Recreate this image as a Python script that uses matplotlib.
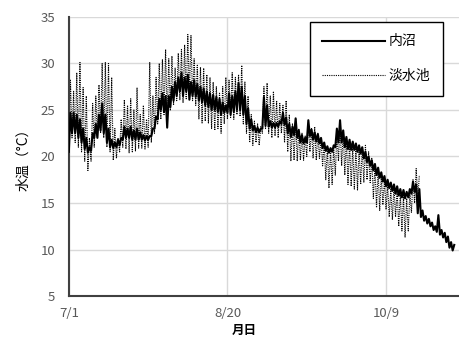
import numpy as np
import matplotlib.pyplot as plt

plt.rcParams['font.family'] = ['Noto Sans CJK JP', 'DejaVu Sans']

# daily low / high water temperature, day 0 = 7/1
uchinuma_lo = [20.5, 22.5, 22.5, 22.0, 21.5, 20.8, 20.4, 20.6, 22.0, 22.0,
               22.8, 22.5, 21.5, 21.0, 20.9, 21.0, 21.2, 21.8, 22.0, 22.0,
               21.8, 21.8, 21.8, 21.8, 21.7, 21.8, 22.2, 23.0, 24.0, 25.0,
               24.8, 23.1, 25.3, 26.0, 26.5, 27.0, 26.5, 27.0, 26.1, 26.5,
               26.4, 26.0, 25.8, 25.5, 25.3, 25.0, 25.0, 24.8, 24.5, 24.7,
               24.7, 24.5, 24.8, 25.0, 25.0, 24.5, 23.5, 23.0, 22.8, 22.6,
               22.6, 23.0, 23.3, 23.2, 23.1, 23.1, 23.2, 23.5, 23.4, 22.5,
               22.1, 22.3, 22.0, 21.5, 21.4, 21.5, 22.2, 21.8, 21.6, 21.4,
               20.9, 20.6, 20.4, 20.5, 21.0, 21.5, 21.5, 21.0, 20.8, 20.7,
               20.7, 20.5, 20.3, 19.8, 19.4, 19.0, 18.5, 18.0, 17.7, 17.3,
               16.8, 16.6, 16.3, 16.0, 15.8, 15.6, 15.5, 15.6, 16.0, 16.2,
               13.9, 13.5, 13.1, 12.8, 12.5, 12.1, 11.9, 11.6, 11.3, 10.8,
               10.2, 9.9]
uchinuma_hi = [24.7, 24.7, 24.5, 24.0, 23.0, 22.0, 21.0, 22.5, 23.5, 24.5,
               25.7, 24.5, 23.0, 21.8, 21.5, 21.8, 22.0, 23.2, 23.0, 23.2,
               22.8, 23.0, 22.6, 22.3, 22.2, 22.2, 23.0, 24.3, 26.2, 26.8,
               26.5, 26.5, 27.5, 28.0, 28.5, 29.0, 28.5, 28.8, 28.0, 28.2,
               27.8, 27.5, 27.3, 27.0, 26.8, 26.6, 26.4, 26.2, 25.8, 25.5,
               26.8, 26.5, 27.0, 27.9, 27.5, 26.5, 25.2, 24.0, 23.3, 23.1,
               23.0, 26.4, 25.5, 23.8, 23.6, 23.6, 23.8, 24.7, 24.2, 23.5,
               23.2, 24.1, 22.8, 22.3, 22.0, 23.9, 22.9, 22.6, 22.4, 22.0,
               21.5, 21.1, 20.9, 21.2, 23.0, 23.9, 22.8, 22.1, 21.8, 21.6,
               21.4, 21.2, 21.0, 20.5, 20.0, 19.6, 19.2, 18.8, 18.3, 17.9,
               17.5, 17.2, 17.0, 16.8, 16.5, 16.4, 16.2, 16.5, 17.3, 17.0,
               16.5, 14.2, 13.6, 13.3, 12.9, 12.5, 13.7, 12.1, 11.8, 11.4,
               10.8, 10.5]

tansui_lo = [21.0, 22.0, 21.5, 21.0, 20.5, 19.5, 18.5, 19.5, 21.0, 22.0,
             22.5, 22.0, 21.0, 20.5, 19.6, 19.8, 20.5, 21.0, 20.8, 20.4,
             20.5, 20.6, 20.9, 20.9, 20.8, 21.0, 21.5, 22.5, 23.5, 24.0,
             24.5, 24.0, 25.0, 25.5, 26.0, 26.1, 25.8, 26.2, 26.5, 26.0,
             25.5, 24.0, 23.6, 23.8, 23.6, 23.0, 22.8, 23.0, 22.5, 23.5,
             24.0, 24.2, 24.0, 24.5, 24.3, 23.5, 22.5, 21.5, 21.2, 21.5,
             21.2, 22.5, 23.0, 22.5, 22.0, 22.2, 22.0, 22.5, 21.5, 20.5,
             19.5, 19.6, 19.5, 19.6, 19.6, 20.0, 20.5, 19.8, 19.6, 19.8,
             19.0, 17.5, 16.6, 17.0, 18.0, 19.5, 19.0, 18.0, 17.0, 16.8,
             16.5, 16.4, 17.0, 17.2, 17.5, 17.2, 15.5, 14.5, 14.2, 14.8,
             14.3, 13.5, 13.2, 13.5, 12.5, 12.0, 11.3, 12.0, 14.0, 15.0,
             15.5]
tansui_hi = [28.2, 27.0, 29.0, 30.1, 27.4, 26.5, 22.0, 25.7, 26.5, 27.7,
             30.0, 30.1, 30.0, 28.5, 23.0, 22.0, 24.0, 26.1, 25.5, 26.2,
             25.0, 27.4, 24.5, 25.5, 24.0, 30.1, 26.5, 28.5, 30.0, 30.4,
             31.5, 30.5, 30.8, 29.5, 31.1, 31.5, 32.0, 33.1, 33.0, 30.5,
             29.8, 29.6, 29.5, 28.8, 28.5, 28.0, 27.5, 26.8, 27.5, 28.5,
             28.2, 29.0, 28.5, 28.8, 29.8, 28.0, 26.5, 24.5, 23.8, 23.5,
             23.2, 27.5, 27.9, 26.5, 27.0, 26.0, 25.7, 25.5, 26.0, 24.5,
             23.5, 24.0, 23.0, 22.5, 22.2, 23.5, 23.0, 23.2, 22.5, 22.0,
             21.5, 21.0, 20.8, 21.0, 22.5, 23.5, 22.8, 22.0, 21.5, 21.0,
             21.0, 20.8, 21.0, 21.2, 20.5, 19.8, 19.0, 18.5, 18.0, 17.5,
             17.0, 16.5, 16.8, 16.2, 16.0, 15.8, 15.5, 16.0, 17.5, 18.7,
             18.0]

tick_days = [0, 50, 100]
tick_labels = ['7/1', '8/20', '10/9']


def half_daily(lo, hi):
    y = np.column_stack((lo, hi)).ravel()
    x = np.arange(len(y)) * 0.5
    return x, y


fig = plt.figure(figsize=(4.59, 3.38), dpi=100)
ax = fig.add_axes([0.150, 0.124, 0.850, 0.826])

x1, y1 = half_daily(uchinuma_lo, uchinuma_hi)
x2, y2 = half_daily(tansui_lo, tansui_hi)
ax.plot(x1, y1, color='black', lw=1.5, label='内沼', zorder=3)
ax.plot(x2, y2, color='black', lw=0.8, ls=(0, (1, 1)), label='淡水池', zorder=2)

ax.set_xlim(0, 123)
ax.set_ylim(5, 35)
ax.set_yticks(range(5, 36, 5))
ax.set_xticks(tick_days)
ax.set_xticklabels(tick_labels)
ax.grid(True, color='#d9d9d9', lw=1)
ax.set_axisbelow(True)
ax.tick_params(length=0, labelsize=9.5, labelcolor='#595959')
ax.tick_params(axis='x', pad=8)
ax.tick_params(axis='y', pad=10)

for s in ['top', 'right']:
    ax.spines[s].set_visible(False)
for s in ['left', 'bottom']:
    ax.spines[s].set_color('#404040')
    ax.spines[s].set_linewidth(1.5)

ax.set_ylabel('水温（°C）', fontsize=10)
ax.yaxis.set_label_coords(-0.10, 0.5)
ax.set_xlabel('月日', fontsize=9, fontweight='bold')
ax.xaxis.set_label_coords(0.449, -0.10)

leg = ax.legend(loc='upper right', bbox_to_anchor=(0.959, 0.982), fontsize=10,
                frameon=True, fancybox=False, edgecolor='black', framealpha=1,
                labelspacing=1.5, handlelength=4.5, borderpad=0.9,
                borderaxespad=0, handletextpad=0.3)
leg.get_frame().set_linewidth(1.0)

plt.savefig('out.png', dpi=100)
